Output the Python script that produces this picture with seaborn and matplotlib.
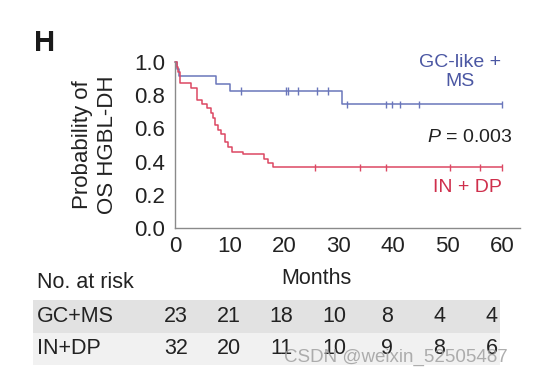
import seaborn as sns
import numpy as np
import pandas as pd
import matplotlib.pyplot as plt

# Kaplan-Meier steps (months, survival after the step)
gc_times = [0.3, 0.8, 7.6, 10.1, 30.6]
gc_surv = [0.96, 0.915, 0.87, 0.826, 0.745]
gc_censor = [12.2, 20.3, 20.8, 22.5, 26.0, 28.1, 31.6, 38.8, 39.8, 41.3, 44.8, 60.0]

in_times = [0.3, 0.6, 1.0, 3.0, 4.0, 5.0, 5.8, 6.6, 7.0, 7.4, 7.8, 8.5,
            9.2, 9.7, 10.5, 12.5, 16.3, 17.0, 17.9]
in_surv = [0.97, 0.94, 0.875, 0.845, 0.77, 0.75, 0.72, 0.69, 0.66, 0.62, 0.59, 0.565,
           0.52, 0.49, 0.46, 0.445, 0.415, 0.39, 0.365]
in_censor = [25.6, 33.9, 38.8, 50.5, 56.0, 60.0]

risk_groups = ["GC+MS", "IN+DP"]
risk_gc = [23, 21, 18, 10, 8, 4, 4]
risk_in = [32, 20, 11, 10, 9, 8, 6]
x_ticks = [0, 10, 20, 30, 40, 50, 60]
y_ticks = [0.0, 0.2, 0.4, 0.6, 0.8, 1.0]

blue = "#6a76bb"
blue_txt = "#4b57a3"
red = "#dc4863"
red_txt = "#cf2f4c"

sns.set_style("white")
plt.rcParams["font.family"] = ["Liberation Sans", "DejaVu Sans"]
plt.rcParams["mathtext.fontset"] = "custom"
plt.rcParams["mathtext.it"] = "Liberation Sans:italic"
plt.rcParams["mathtext.rm"] = "Liberation Sans"


def km_frame(times, surv, end, name):
    t = [0.0] + list(times) + [end]
    s = [1.0] + list(surv) + [surv[-1]]
    return pd.DataFrame({"Months": t, "surv": s, "group": name})


def at(times, surv, t):
    idx = np.searchsorted(times, t, side="right") - 1
    return 1.0 if idx < 0 else surv[idx]


df = pd.concat([km_frame(gc_times, gc_surv, 60, "GC-like + MS"),
                km_frame(in_times, in_surv, 60, "IN + DP")])
cens = pd.DataFrame({
    "Months": gc_censor + in_censor,
    "surv": [at(gc_times, gc_surv, t) for t in gc_censor] + [at(in_times, in_surv, t) for t in in_censor],
    "group": ["GC-like + MS"] * len(gc_censor) + ["IN + DP"] * len(in_censor),
})
pal = {"GC-like + MS": blue, "IN + DP": red}

fig = plt.figure(figsize=(5.5, 3.81), dpi=100)
ax = fig.add_axes([175 / 550, 1 - 228 / 381, 345 / 550, 166 / 381])

sns.lineplot(data=df, x="Months", y="surv", hue="group", palette=pal, estimator=None,
             sort=False, drawstyle="steps-post", linewidth=1.1, legend=False, ax=ax)
sns.scatterplot(data=cens, x="Months", y="surv", hue="group", palette=pal, marker="|",
                s=30, linewidth=1.0, legend=False, ax=ax)
for l in ax.lines:
    l.set_clip_on(False)

ax.set_xlim(0, 63.3)
ax.set_ylim(0, 1.0)
ax.set_xticks(x_ticks)
ax.set_yticks(y_ticks)
ax.set_yticklabels([f"{v:.1f}" for v in y_ticks])
ax.set_xlabel("")
ax.set_ylabel("Probability of\nOS HGBL-DH", fontsize=16, color="#222222", labelpad=12)
sns.despine(ax=ax)
for sp in ["left", "bottom"]:
    ax.spines[sp].set_color("#8a8a8a")
    ax.spines[sp].set_linewidth(1.0)
ax.tick_params(axis="both", colors="#8a8a8a", labelcolor="#222222", labelsize=16,
               length=4, width=1.0, direction="out", pad=3)
ax.tick_params(axis="x", direction="inout", pad=4)

ax.text(52.3, 0.937, "GC-like +\nMS", color=blue_txt, fontsize=14, ha="center", va="center",
        linespacing=1.15)
ax.text(61.8, 0.548, "$P$ = 0.003", color="#222222", fontsize=14, ha="right", va="center")
ax.text(53.6, 0.241, "IN + DP", color=red_txt, fontsize=14, ha="center", va="center")

fig.text(45 / 550, 1 - 43 / 381, "H", fontsize=21, fontweight="bold", ha="center", va="center",
         color="#1a1a1a")
fig.text(316 / 550, 1 - 278 / 381, "Months", fontsize=15.5, ha="center", va="center", color="#222222")
fig.text(37 / 550, 1 - 283 / 381, "No. at risk", fontsize=15.5, ha="left", va="center", color="#222222")

# number at risk table
tab = fig.add_axes([33 / 550, 1 - 365 / 381, 467 / 550, 65 / 381])
tab.set_xlim(-2.715, 6.152)
tab.set_ylim(1.5, -0.5)
tab.axhspan(-0.5, 0.5, color="#e2e2e2", lw=0)
tab.axhspan(0.5, 1.5, color="#f1f1f1", lw=0)
for r, (name, vals) in enumerate(zip(risk_groups, [risk_gc, risk_in])):
    tab.text(-2.64, r, name, fontsize=15.5, ha="left", va="center", color="#222222")
    for k, v in enumerate(vals):
        tab.text(k, r, str(v), fontsize=15.5, ha="center", va="center", color="#222222")
tab.axis("off")

fig.text(508 / 550, 1 - 357 / 381, "CSDN @weixin_52505487", fontsize=13.5, ha="right",
         va="center", color="#a0a0a0", alpha=0.85)

fig.savefig("out.png", dpi=100)
